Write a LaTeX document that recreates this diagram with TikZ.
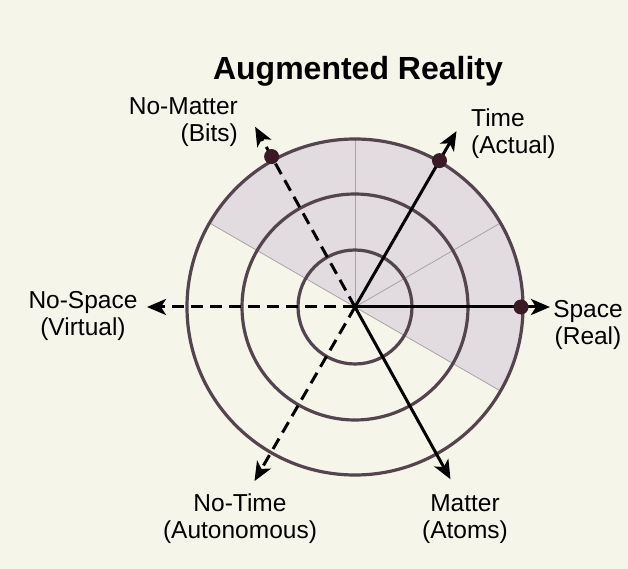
\documentclass[tikz,border=0pt]{standalone}
\usepackage{fontspec}
\setmainfont{Liberation Sans}
\usetikzlibrary{arrows.meta, positioning}
\definecolor{paper}{RGB}{246,245,234}
\definecolor{ringgray}{RGB}{84,68,78}
\definecolor{wedgefill}{RGB}{226,220,225}
\definecolor{poledot}{RGB}{58,26,36}

\begin{document}
\begin{tikzpicture}[
    x=1pt, y=1pt,
    ring/.style={draw=ringgray, line width=3.2pt},
    divider/.style={draw=ringgray!50, line width=0.8pt},
    posaxis/.style={-{Stealth[length=19pt,width=16pt,inset=5pt]}, line width=3pt, black},
    negaxis/.style={posaxis, dash pattern=on 12pt off 7pt},
    pole/.style={circle, fill=poledot, inner sep=0pt, minimum size=15pt},
    axislabel/.style={font=\fontsize{24.5}{27}\selectfont, inner sep=0pt, align=center},
    heading/.style={font=\fontsize{32}{36}\selectfont\bfseries, inner sep=0pt}
]

% Page
\fill[paper] (-355,-262) rectangle (273,307);
\useasboundingbox (-355,-262) rectangle (273,307);

\coordinate (o) at (0,0);

% Shaded half
\fill[wedgefill] (o) -- (-30:168) arc[start angle=-30, end angle=150, radius=168] -- cycle;
\foreach \a in {-30,30,90,150}
    \draw[divider] (o) -- (\a:168);

% Rings
\foreach \r in {57,113,168}
    \draw[ring] (o) circle[radius=\r];

% Title
\node[heading, anchor=base] (title) at (3,227) {Augmented Reality};

% Axis ends
\coordinate (spacetip) at (0:195);
\coordinate (timetip) at (60:203);
\coordinate (nomattertip) at (119:206);
\coordinate (nospacetip) at (180:208);
\coordinate (notimetip) at (240:201);
\coordinate (mattertip) at (299:197);

% Axes
\draw[posaxis] (o) -- (spacetip);
\draw[posaxis] (o) -- (timetip);
\draw[posaxis] (o) -- (mattertip);
\draw[negaxis] (o) -- (nomattertip);
\draw[negaxis] (o) -- (nospacetip);
\draw[negaxis] (o) -- (notimetip);

% Poles on the outer ring
\node[pole] (spacedot) at (0:166) {};
\node[pole] (timedot) at (60:169) {};
\node[pole] (nomatterdot) at (119:172) {};

% Labels
\node[axislabel] (space) at (233,-18) {Space\\(Real)};
\node[axislabel, anchor=west, align=left] (time) at (116,173) {Time\\(Actual)};
\node[axislabel, anchor=east, align=right] (nomatter) at (-117,185) {No-Matter\\(Bits)};
\node[axislabel] (nospace) at (-272,-9) {No-Space\\(Virtual)};
\node[axislabel] (notime) at (-115,-212) {No-Time\\(Autonomous)};
\node[axislabel] (matter) at (110,-212) {Matter\\(Atoms)};

\end{tikzpicture}
\end{document}
